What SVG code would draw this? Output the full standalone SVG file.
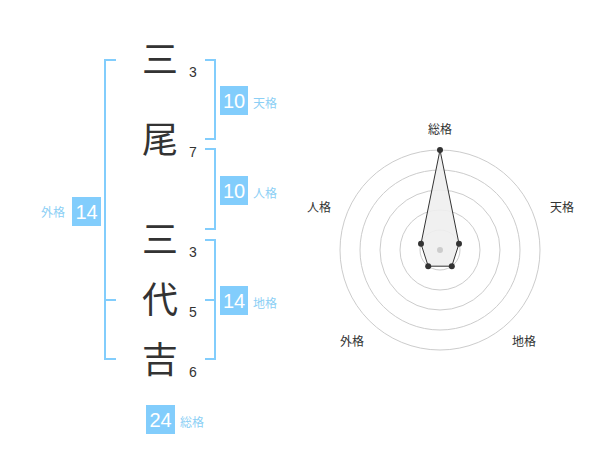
<svg xmlns="http://www.w3.org/2000/svg" width="600" height="470" viewBox="0 0 600 470">
<style>
.ch{font-family:"Noto Sans CJK JP","Noto Sans CJK SC",sans-serif;font-size:36px;fill:#333;text-anchor:middle}
.num{font-family:"Liberation Sans",Arial,sans-serif;font-size:14px;fill:#333}
.box{fill:#82cdfc}
.bt{font-family:"Liberation Sans",Arial,sans-serif;font-size:20px;fill:#fff;text-anchor:middle}
.lb{font-family:"Noto Sans CJK JP","Noto Sans CJK SC",sans-serif;font-size:12px;fill:#8ccff5}
.br{fill:none;stroke:#82cdfc;stroke-width:2}
.ring{fill:none;stroke:#ccc;stroke-width:1}
.rl{font-family:"Noto Sans CJK JP","Noto Sans CJK SC",sans-serif;font-size:12px;fill:#333;text-anchor:middle}
</style>
<rect width="600" height="470" fill="#fff"/>
<g id="chars">
<text class="ch" x="160" y="73">三</text>
<text class="ch" x="160" y="153">尾</text>
<text class="ch" x="160" y="253">三</text>
<text class="ch" x="160" y="313">代</text>
<text class="ch" x="160" y="373">吉</text>
<text class="num" x="189" y="77">3</text>
<text class="num" x="189" y="157">7</text>
<text class="num" x="189" y="257">3</text>
<text class="num" x="189" y="317">5</text>
<text class="num" x="189" y="377">6</text>
</g>
<g id="connectors">
<path class="br" d="M116,60 H105 V359 H116 M105,300 H116"/>
<path class="br" d="M205,60 H215 V139 H205"/>
<path class="br" d="M205,149 H215 V229 H205"/>
<path class="br" d="M205,240 H215 V359 H205 M215,300 H205"/>
</g>
<g id="gaikaku">
<rect class="box" x="72" y="197" width="29" height="29"/>
<text class="bt" x="86.5" y="219">14</text>
<text class="lb" x="41" y="217">外格</text>
</g>
<g id="tenkaku">
<rect class="box" x="220" y="86" width="28" height="29"/>
<text class="bt" x="234" y="108">10</text>
<text class="lb" x="253" y="108">天格</text>
</g>
<g id="jinkaku">
<rect class="box" x="220" y="176" width="28" height="29"/>
<text class="bt" x="234" y="198">10</text>
<text class="lb" x="253" y="198">人格</text>
</g>
<g id="chikaku">
<rect class="box" x="220" y="286" width="28" height="29"/>
<text class="bt" x="234" y="308">14</text>
<text class="lb" x="253" y="308">地格</text>
</g>
<g id="soukaku">
<rect class="box" x="146" y="405" width="29" height="29"/>
<text class="bt" x="160.5" y="427">24</text>
<text class="lb" x="180" y="427">総格</text>
</g>
<g id="radar">
<circle class="ring" cx="440" cy="250" r="20"/>
<circle class="ring" cx="440" cy="250" r="40"/>
<circle class="ring" cx="440" cy="250" r="60"/>
<circle class="ring" cx="440" cy="250" r="80"/>
<circle class="ring" cx="440" cy="250" r="100"/>
<polygon points="440,150 459,243.8 451.8,266.2 428.2,266.2 421,243.8" fill="#eee" fill-opacity="0.9" stroke="#333" stroke-width="1"/>
<circle cx="440" cy="250" r="3" fill="#ccc"/>
<g fill="#333">
<circle cx="440" cy="150" r="3"/>
<circle cx="459" cy="243.8" r="3"/>
<circle cx="451.8" cy="266.2" r="3"/>
<circle cx="428.2" cy="266.2" r="3"/>
<circle cx="421" cy="243.8" r="3"/>
</g>
<text class="rl" x="440" y="134">総格</text>
<text class="rl" x="562" y="212">天格</text>
<text class="rl" x="319" y="212">人格</text>
<text class="rl" x="352" y="346">外格</text>
<text class="rl" x="524" y="346">地格</text>
</g>
</svg>
